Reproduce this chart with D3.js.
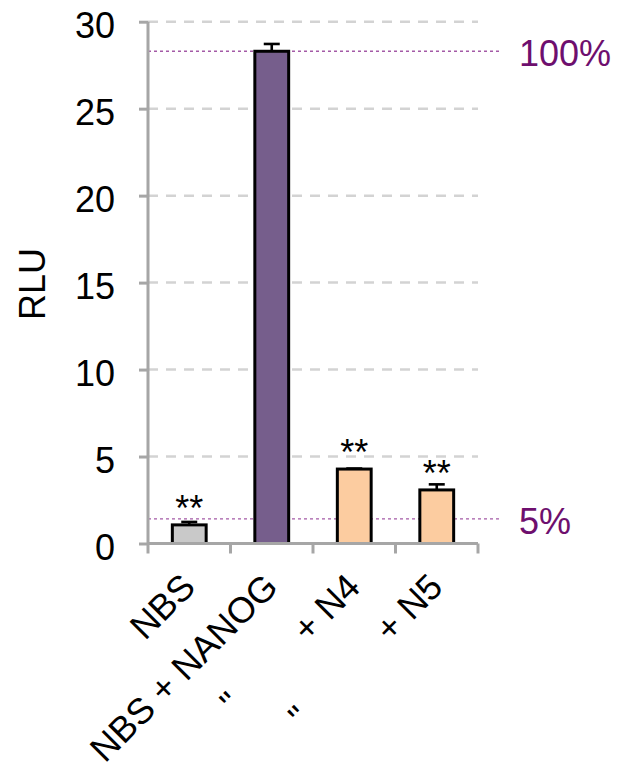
<!DOCTYPE html>
<html>
<head>
<meta charset="utf-8">
<script src="https://cdn.jsdelivr.net/npm/d3@7"></script>
<style>
  html, body { margin: 0; padding: 0; background: #fff; }
  svg { display: block; font-family: "Liberation Sans", Arial, sans-serif; }
</style>
</head>
<body>
<svg id="chart" width="620" height="775"></svg>
<script>
// Luciferase reporter activity (RLU) per construct
const categories = ["NBS", "NBS + NANOG", "NANOG + N4", "NANOG + N5"];
const tickLabels = [
  "NBS",
  "NBS + NANOG",
  "\"\u00A0\u00A0\u00A0\u00A0\u00A0\u00A0\u00A0\u00A0\u00A0+ N4",
  "\"\u00A0\u00A0\u00A0\u00A0\u00A0\u00A0\u00A0\u00A0\u00A0\u00A0\u00A0+ N5"
];
const values = [1.07, 28.3, 4.28, 3.08];
const errors = [0.17, 0.42, 0.03, 0.32];
const significance = ["**", "", "**", "**"];
const barColors = ["#c9c9c9", "#765e8c", "#fccca0", "#fccca0"];
const yTicks = [0, 5, 10, 15, 20, 25, 30];
const refLevels = [1.0, 0.05];           // fraction of the NBS + NANOG signal
const refLabels = ["100%", "5%"];
const refIndex = 1;                       // bar used as 100%

const svg = d3.select("#chart");
const plotLeft = 148, plotRight = 478, plotTop = 21.7, plotBottom = 543.5;
const FONT = 36;

const y = d3.scaleLinear().domain([0, 30]).range([plotBottom, plotTop]);
const x = d3.scaleBand().domain(categories).range([plotLeft, plotRight]).padding(0);
const bw = x.bandwidth();
const barW = bw * 0.41;

// dashed horizontal gridlines
svg.append("g").selectAll("line")
  .data(yTicks.filter(t => t > 0))
  .join("line")
  .attr("x1", plotLeft).attr("x2", plotRight)
  .attr("y1", d => y(d)).attr("y2", d => y(d))
  .attr("stroke", "#d3d3d3").attr("stroke-width", 2.5)
  .attr("stroke-dasharray", "10,8");

// dotted reference lines (100% and 5% of NBS + NANOG)
const refValues = refLevels.map(f => f * values[refIndex]);
svg.append("g").selectAll("line")
  .data(refValues)
  .join("line")
  .attr("x1", plotLeft).attr("x2", 502)
  .attr("y1", d => y(d)).attr("y2", d => y(d))
  .attr("stroke", "#a45aa6").attr("stroke-width", 1.4)
  .attr("stroke-dasharray", "3,3");

svg.append("g").selectAll("text")
  .data(refValues)
  .join("text")
  .attr("x", 519)
  .attr("y", d => y(d))
  .attr("dy", "0.42em")
  .attr("font-size", FONT)
  .attr("fill", "#6e0f6e")
  .text((d, i) => refLabels[i]);

// bars
svg.append("g").selectAll("rect")
  .data(categories)
  .join("rect")
  .attr("x", d => x(d) + (bw - barW) / 2)
  .attr("width", barW)
  .attr("y", (d, i) => y(values[i]))
  .attr("height", (d, i) => y(0) - y(values[i]))
  .attr("fill", (d, i) => barColors[i])
  .attr("stroke", "#000").attr("stroke-width", 3);

// error bars (upper whisker)
const eb = svg.append("g").attr("stroke", "#000").attr("stroke-width", 2.6);
categories.forEach((c, i) => {
  const cx = x(c) + bw / 2;
  eb.append("line")
    .attr("x1", cx).attr("x2", cx)
    .attr("y1", y(values[i])).attr("y2", y(values[i] + errors[i]));
  eb.append("line")
    .attr("x1", cx - 8).attr("x2", cx + 8)
    .attr("y1", y(values[i] + errors[i])).attr("y2", y(values[i] + errors[i]));
});

// significance marks
svg.append("g").selectAll("text")
  .data(categories)
  .join("text")
  .attr("x", d => x(d) + bw / 2)
  .attr("y", (d, i) => y(values[i]) - 4)
  .attr("text-anchor", "middle")
  .attr("font-size", FONT)
  .attr("fill", "#000")
  .text((d, i) => significance[i]);

// y axis
const yAxis = svg.append("g")
  .attr("transform", `translate(${plotLeft},0)`)
  .call(d3.axisLeft(y).tickValues(yTicks).tickSize(9).tickPadding(24));
yAxis.select(".domain").attr("stroke", "#a6a6a6").attr("stroke-width", 3)
  .attr("d", `M0,${plotTop}V${plotBottom}`);
yAxis.selectAll(".tick line").attr("stroke", "#a6a6a6").attr("stroke-width", 3);
yAxis.selectAll(".tick text")
  .attr("font-size", FONT).attr("font-family", "Liberation Sans, Arial, sans-serif")
  .attr("fill", "#000").attr("dy", "0.44em");

// x axis with boundary ticks
const xg = svg.append("g");
xg.append("line")
  .attr("x1", plotLeft).attr("x2", plotRight)
  .attr("y1", plotBottom).attr("y2", plotBottom)
  .attr("stroke", "#a6a6a6").attr("stroke-width", 3);
const bounds = categories.map(c => x(c)).concat([x.range()[1]]);
xg.selectAll("line.tk")
  .data(bounds)
  .join("line")
  .attr("class", "tk")
  .attr("x1", d => d).attr("x2", d => d)
  .attr("y1", plotBottom).attr("y2", plotBottom + 10)
  .attr("stroke", "#a6a6a6").attr("stroke-width", 3);

// rotated category labels
xg.selectAll("text")
  .data(categories)
  .join("text")
  .attr("transform", d => `translate(${x(d) + bw / 2 + 8},589) rotate(-45)`)
  .attr("text-anchor", "end")
  .attr("font-size", FONT)
  .attr("fill", "#000")
  .text((d, i) => tickLabels[i]);

// y axis title
svg.append("text")
  .attr("transform", "translate(45,284) rotate(-90)")
  .attr("text-anchor", "middle")
  .attr("font-size", FONT)
  .attr("fill", "#000")
  .text("RLU");
</script>
</body>
</html>
